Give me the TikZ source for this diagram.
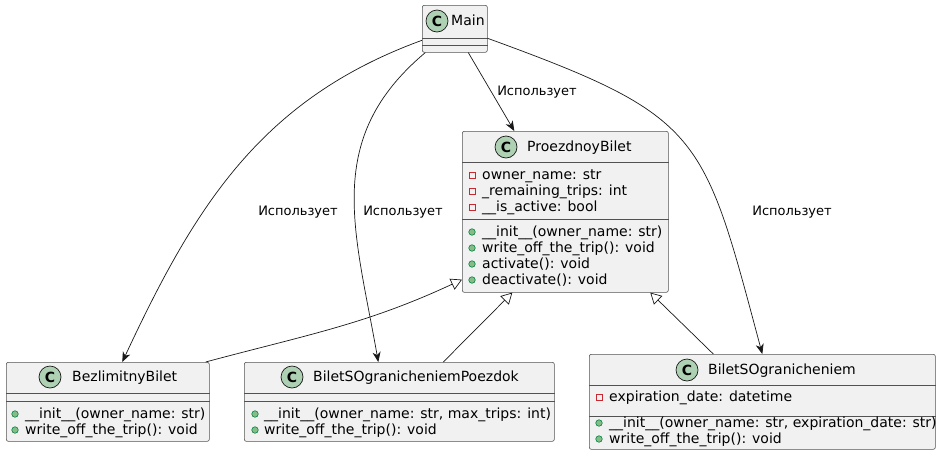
\documentclass[tikz,border=0pt]{standalone}
\usepackage{fontspec}
\setmainfont{DejaVu Sans}
\usetikzlibrary{arrows.meta}
\definecolor{classfill}{HTML}{F1F1F1}
\definecolor{classdraw}{HTML}{181818}
\definecolor{circgreen}{HTML}{ADD1B2}
\definecolor{privred}{HTML}{C82930}
\definecolor{pubgreen}{HTML}{84BE84}
\definecolor{pubdark}{HTML}{038048}

\begin{document}
\begin{tikzpicture}[x=1pt,y=1pt]
\tikzset{
  classbox/.style={draw=classdraw!75,fill=classfill,rounded corners=2pt,line width=0.6pt,inner sep=0pt,anchor=north west},
  classsep/.style={draw=classdraw!75,line width=0.6pt},
  classicon/.style={circle,draw=classdraw,fill=circgreen,minimum size=22pt,inner sep=0pt,line width=0.7pt,font=\fontsize{14}{14}\selectfont\bfseries},
  member/.style={anchor=base west,inner sep=0pt,yshift=-4.5pt,font=\fontsize{14}{16}\selectfont},
  privmark/.style={rectangle,draw=privred,line width=0.8pt,minimum size=6pt,inner sep=0pt},
  pubmark/.style={circle,draw=pubdark,fill=pubgreen,line width=0.6pt,minimum size=6.5pt,inner sep=0pt},
  uses/.style={-{Stealth[length=10pt,width=8pt,inset=3pt]},line width=0.7pt,draw=classdraw},
  extends/.style={-{Triangle[open,length=11pt,width=12pt]},line width=0.7pt,draw=classdraw},
  edgelabel/.style={font=\fontsize{13}{13}\selectfont,inner sep=0pt}
}
\useasboundingbox (0,0) rectangle (936,-453);
\node[classbox,minimum width=65pt,minimum height=47pt] (n_main) at (422,-5) {};
\draw[classsep] ([yshift=-33pt]n_main.north west) -- ([yshift=-33pt]n_main.north east);
\draw[classsep] ([yshift=-40pt]n_main.north west) -- ([yshift=-40pt]n_main.north east);
\node[classicon] (i_main) at (437,-21) {C};
\node[member] (t_main) at (451,-21) {Main};
\node[classbox,minimum width=206pt,minimum height=161pt] (n_pb) at (462,-131) {};
\draw[classsep] ([yshift=-31pt]n_pb.north west) -- ([yshift=-31pt]n_pb.north east);
\draw[classsep] ([yshift=-88pt]n_pb.north west) -- ([yshift=-88pt]n_pb.north east);
\node[classicon] (i_pb) at (506,-147) {C};
\node[member] (t_pb) at (527,-147) {ProezdnoyBilet};
\node[privmark] (pb_a1m) at (472,-175) {};
\node[member] (pb_a1) at (482,-175) {owner\_name: str};
\node[privmark] (pb_a2m) at (472,-191) {};
\node[member] (pb_a2) at (482,-191) {\_remaining\_trips: int};
\node[privmark] (pb_a3m) at (472,-207) {};
\node[member] (pb_a3) at (482,-207) {\_\_is\_active: bool};
\node[pubmark] (pb_m1m) at (472,-232) {};
\node[member] (pb_m1) at (482,-232) {\_\_init\_\_(owner\_name: str)};
\node[pubmark] (pb_m2m) at (472,-248) {};
\node[member] (pb_m2) at (482,-248) {write\_off\_the\_trip(): void};
\node[pubmark] (pb_m3m) at (472,-264) {};
\node[member] (pb_m3) at (482,-264) {activate(): void};
\node[pubmark] (pb_m4m) at (472,-280) {};
\node[member] (pb_m4) at (482,-280) {deactivate(): void};
\node[classbox,minimum width=203pt,minimum height=79pt] (n_bz) at (6,-362) {};
\draw[classsep] ([yshift=-31pt]n_bz.north west) -- ([yshift=-31pt]n_bz.north east);
\draw[classsep] ([yshift=-39pt]n_bz.north west) -- ([yshift=-39pt]n_bz.north east);
\node[classicon] (i_bz) at (50,-377) {C};
\node[member] (t_bz) at (72,-377) {BezlimitnyBilet};
\node[pubmark] (bz_m1m) at (15,-414) {};
\node[member] (bz_m1) at (25,-414) {\_\_init\_\_(owner\_name: str)};
\node[pubmark] (bz_m2m) at (15,-430) {};
\node[member] (bz_m2) at (25,-430) {write\_off\_the\_trip(): void};
\node[classbox,minimum width=310pt,minimum height=79pt] (n_bp) at (244,-362) {};
\draw[classsep] ([yshift=-31pt]n_bp.north west) -- ([yshift=-31pt]n_bp.north east);
\draw[classsep] ([yshift=-39pt]n_bp.north west) -- ([yshift=-39pt]n_bp.north east);
\node[classicon] (i_bp) at (292,-377) {C};
\node[member] (t_bp) at (313,-377) {BiletSOgranicheniemPoezdok};
\node[pubmark] (bp_m1m) at (255,-414) {};
\node[member] (bp_m1) at (264,-414) {\_\_init\_\_(owner\_name: str, max\_trips: int)};
\node[pubmark] (bp_m2m) at (255,-430) {};
\node[member] (bp_m2) at (264,-430) {write\_off\_the\_trip(): void};
\node[classbox,minimum width=346pt,minimum height=95pt] (n_bo) at (589,-354) {};
\draw[classsep] ([yshift=-31pt]n_bo.north west) -- ([yshift=-31pt]n_bo.north east);
\draw[classsep] ([yshift=-62pt]n_bo.north west) -- ([yshift=-62pt]n_bo.north east);
\node[classicon] (i_bo) at (687,-370) {C};
\node[member] (t_bo) at (708,-370) {BiletSOgranicheniem};
\node[privmark] (bo_a1m) at (599,-397) {};
\node[member] (bo_a1) at (609,-397) {expiration\_date: datetime};
\node[pubmark] (bo_m1m) at (599,-423) {};
\node[member] (bo_m1) at (609,-423) {\_\_init\_\_(owner\_name: str, expiration\_date: str)};
\node[pubmark] (bo_m2m) at (599,-439) {};
\node[member] (bo_m2) at (609,-439) {write\_off\_the\_trip(): void};
\draw[uses] ([xshift=13.5pt]n_main.south) -- ([xshift=-51pt]n_pb.north);
\draw[uses] ([yshift=-11.5pt]n_main.west) to[out=200,in=65] ([xshift=14.5pt]n_bz.north);
\draw[uses] ([xshift=-29.5pt]n_main.south) to[out=220,in=100,looseness=1.1] ([xshift=-21pt]n_bp.north);
\draw[uses] ([yshift=-9.5pt]n_main.east) to[out=-20,in=105,looseness=1.4] (n_bo.north);
\draw[extends] ([xshift=-4pt]n_bz.north east) to[out=15,in=205] ([yshift=13pt]n_pb.south west);
\draw[extends] ([xshift=44pt]n_bp.north) -- ([xshift=-53pt]n_pb.south);
\draw[extends] ([xshift=-49pt]n_bo.north) -- ([xshift=85pt]n_pb.south);
\node[edgelabel] (l_pb) at (537,-92) {Использует};
\node[edgelabel] (l_bz) at (298,-212) {Использует};
\node[edgelabel] (l_bp) at (403,-212) {Использует};
\node[edgelabel] (l_bo) at (792,-212) {Использует};
\end{tikzpicture}
\end{document}
